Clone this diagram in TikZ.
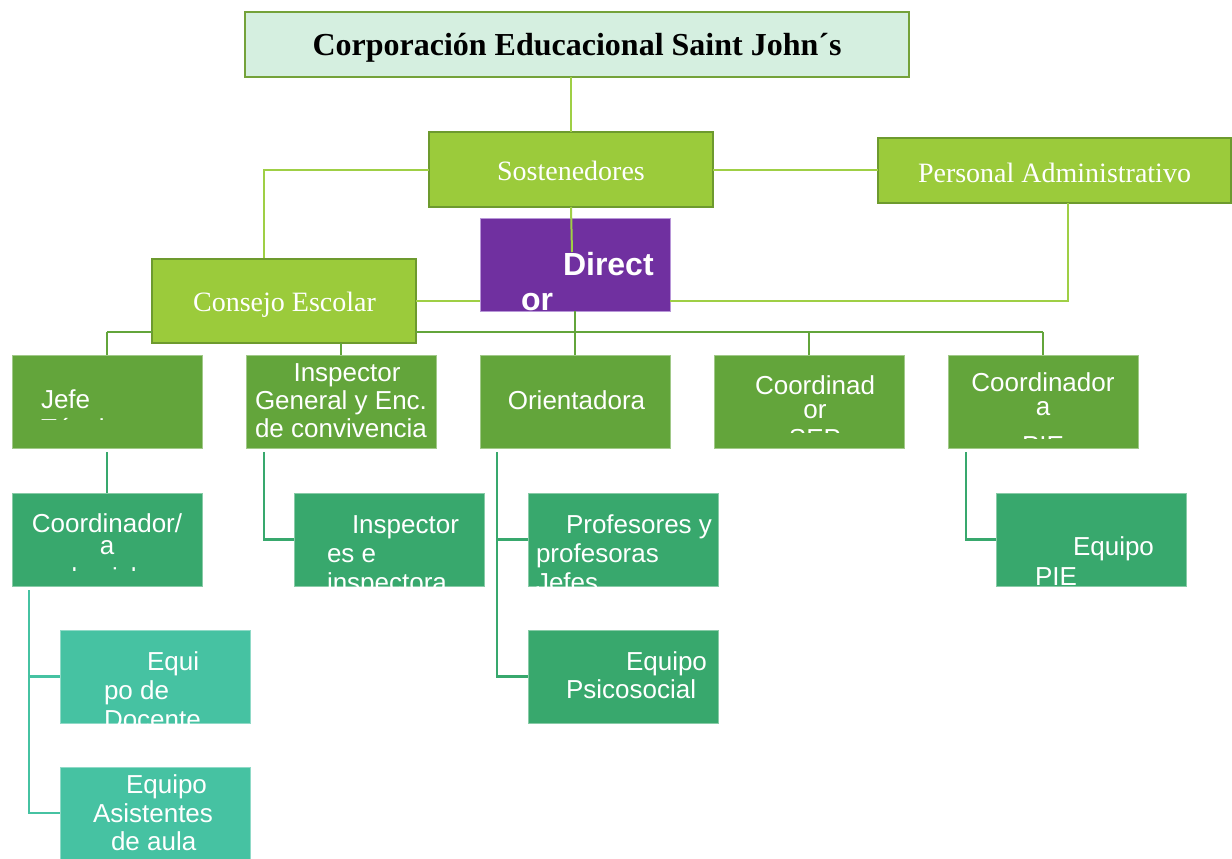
\documentclass[tikz,border=0pt]{standalone}
\usepackage{fontspec}
\setmainfont{Liberation Serif}
\newfontfamily\arialf{Liberation Sans}
\definecolor{cTitleFill}{HTML}{D5EFE0}
\definecolor{cTitleDraw}{HTML}{74A23A}
\definecolor{cLime}{HTML}{9BCB3B}
\definecolor{cLimeDark}{HTML}{6D9A2E}
\definecolor{cLimeLine}{HTML}{9FCF45}
\definecolor{cLvlTwo}{HTML}{63A53B}
\definecolor{cLvlThree}{HTML}{38A86D}
\definecolor{cLvlFour}{HTML}{46C2A2}
\definecolor{cPurple}{HTML}{7030A0}
\definecolor{cPurpleLight}{HTML}{B896D8}
\begin{document}
\begin{tikzpicture}[x=1pt,y=-1pt,
  box/.style={inner sep=0pt, outer sep=0pt, anchor=north west},
  titlebox/.style={box, fill=cTitleFill, draw=cTitleDraw, line width=2.5pt},
  limebox/.style={box, fill=cLime, draw=cLimeDark, line width=2.5pt},
  dirbox/.style={box, fill=cPurple, draw=cPurpleLight, line width=0.8pt},
  twobox/.style={box, fill=cLvlTwo, draw=cLvlTwo!60!white, line width=0.8pt, minimum width=190pt, minimum height=93pt},
  threebox/.style={box, fill=cLvlThree, draw=cLvlThree!60!white, line width=0.8pt, minimum width=190pt, minimum height=93pt},
  fourbox/.style={box, fill=cLvlFour, draw=cLvlFour!60!white, line width=0.8pt, minimum width=190pt, minimum height=93pt},
  limeline/.style={draw=cLimeLine, line width=2pt},
  busline/.style={draw=cLvlTwo, line width=2.6pt},
  tealline/.style={draw=cLvlThree, line width=2.4pt},
  aqualine/.style={draw=cLvlFour, line width=2.4pt},
  tx/.style={font=\arialf\fontsize{26}{29}\selectfont, text=white, inner sep=0pt, outer sep=0pt},
  txb/.style={font=\arialf\bfseries\fontsize{32}{36}\selectfont, text=white, inner sep=0pt, outer sep=0pt},
  ts/.style={font=\fontsize{28}{32}\selectfont, text=white, inner sep=0pt, outer sep=0pt},
  tt/.style={font=\bfseries\fontsize{32}{36}\selectfont, text=black, inner sep=0pt, outer sep=0pt}
]
\useasboundingbox (0,0) rectangle (1232,859);
\fill[white] (0,0) rectangle (1232,859);

% ---------- boxes ----------
\node[titlebox, minimum width=664pt, minimum height=65pt] (corp) at (245,12) {};
\node[limebox, minimum width=284pt, minimum height=75pt] (sost) at (429,132) {};
\node[limebox, minimum width=353pt, minimum height=65pt] (pers) at (878,138) {};

% connector coordinates
\coordinate (consTop) at (264,259);
\coordinate (persBot) at (1068,203);
\coordinate (busL) at (107,332);
\coordinate (busR) at (1043,332);
\coordinate (dirIn) at (572,252);

% ---------- connectors (behind boxes) ----------
\draw[limeline] (sost.north) -- (sost.north |- corp.south);
\draw[limeline] (sost.west) -| (consTop);
\draw[limeline] (sost.east) -- (sost.east -| pers.west);

\node[limebox, minimum width=264pt, minimum height=84pt] (cons) at (152,259) {};
\node[dirbox, minimum width=190pt, minimum height=93pt] (dir) at (480,218) {};

\draw[limeline] (cons.east) -- (cons.east -| dir.west);
\draw[limeline] (dir.east |- cons.east) -| (persBot);

% level 2
\node[twobox] (jefe) at (12,355) {};
\node[twobox] (insg) at (246,355) {};
\node[twobox] (orie) at (480,355) {};
\node[twobox] (csep) at (714,355) {};
\node[twobox] (cpie) at (948,355) {};

% level 3
\node[threebox] (ccic) at (12,493) {};
\node[threebox] (insp) at (294,493) {};
\node[threebox] (prof) at (528,493) {};
\node[threebox] (epie) at (996,493) {};

% level 4 / 5
\node[fourbox] (edoc) at (60,630) {};
\node[threebox] (psic) at (528,630) {};
\node[fourbox, minimum height=92pt] (asis) at (60,767) {};

% bus and drops
\draw[busline] (busL) -- (cons.west |- busL);
\draw[busline] (cons.east |- busR) -- (busR);
\draw[busline] (jefe.north) -- (jefe.north |- busL);
\draw[busline] (insg.north) -- (insg.north |- cons.south);
\draw[busline] (orie.north) -- (dir.south);
\draw[busline] (csep.north) -- (csep.north |- busR);
\draw[busline] (cpie.north) -- (busR);

% sostenedores to director (drawn over director)
\draw[limeline] (sost.south) -- (dirIn);

% lower connectors
\draw[tealline] ([yshift=-4pt]jefe.south) -- (ccic.north);
\draw[tealline] ([xshift=-77pt,yshift=-4pt]insg.south) |- (insp.west);
\draw[tealline] ([xshift=-78pt,yshift=-4pt]orie.south) |- (prof.west);
\draw[tealline] ([xshift=-78pt,yshift=-4pt]orie.south) |- (psic.west);
\draw[tealline] ([xshift=-77pt,yshift=-4pt]cpie.south) |- (epie.west);
\draw[aqualine] ([xshift=-78pt,yshift=-4pt]ccic.south) |- (edoc.west);
\draw[aqualine] ([xshift=-78pt,yshift=-4pt]ccic.south) |- (asis.west);

% ---------- texts ----------
\node[tt, anchor=base] (corpT) at (577,56) {Corporación Educacional Saint John´s};
\node[ts, anchor=base] (sostT) at (571,180) {Sostenedores};
\node[ts, anchor=base] (persT) at (1054.5,182) {Personal Administrativo};
\node[ts, anchor=base] (consT) at (284.5,311) {Consejo Escolar};

\begin{scope}
\clip (dir.north west) rectangle (dir.south east);
\node[txb, anchor=base west] (dirT1) at (563,275) {Direct};
\node[txb, anchor=base west] (dirT2) at (521,310) {or};
\end{scope}

\begin{scope}
\clip (jefe.north west) rectangle (jefe.east |- 0,419);
\node[tx, anchor=base west] (jefeT1) at (41,408) {Jefe};
\node[tx, anchor=base west] (jefeT2) at (41,437) {Técnico};
\end{scope}

\node[tx, anchor=base] (insgT1) at (347,381) {Inspector};
\node[tx, anchor=base] (insgT2) at (341,409) {General y Enc.};
\node[tx, anchor=base] (insgT3) at (341,437) {de convivencia};

\node[tx, anchor=base] (orieT) at (576.5,409) {Orientadora};

\begin{scope}
\clip (csep.north west) rectangle (csep.east |- 0,432);
\node[tx, anchor=base] (csepT1) at (815,394) {Coordinad};
\node[tx, anchor=base] (csepT2) at (815,418) {or};
\node[tx, anchor=base] (csepT3) at (815,447) {SEP};
\end{scope}

\begin{scope}
\clip (cpie.north west) rectangle (cpie.east |- 0,438);
\node[tx, anchor=base] (cpieT1) at (1043,391) {Coordinador};
\node[tx, anchor=base] (cpieT2) at (1043,415) {a};
\node[tx, anchor=base] (cpieT3) at (1043,454) {PIE};
\end{scope}

\begin{scope}
\clip (ccic.north west) rectangle (ccic.east |- 0,570);
\node[tx, anchor=base] (ccicT1) at (107,532) {Coordinador/};
\node[tx, anchor=base] (ccicT2) at (107,554) {a};
\node[tx, anchor=base] (ccicT3) at (107,586) {de ciclo};
\end{scope}

\begin{scope}
\clip (insp.north west) rectangle (insp.south east);
\node[tx, anchor=base west] (inspT1) at (352,533) {Inspector};
\node[tx, anchor=base west] (inspT2) at (327,562) {es e};
\node[tx, anchor=base west] (inspT3) at (327,591) {inspectora};
\end{scope}

\begin{scope}
\clip (prof.north west) rectangle (prof.south east);
\node[tx, anchor=base west] (profT1) at (566,533) {Profesores y};
\node[tx, anchor=base west] (profT2) at (536,562) {profesoras};
\node[tx, anchor=base west] (profT3) at (536,591) {Jefes};
\end{scope}

\begin{scope}
\clip (epie.north west) rectangle (epie.south east);
\node[tx, anchor=base west] (epieT1) at (1073,555) {Equipo};
\node[tx, anchor=base west] (epieT2) at (1035,585) {PIE};
\end{scope}

\node[tx, anchor=base west] (psicT1) at (626,670) {Equipo};
\node[tx, anchor=base west] (psicT2) at (566,698) {Psicosocial};

\begin{scope}
\clip (edoc.north west) rectangle (edoc.south east);
\node[tx, anchor=base west] (edocT1) at (147,670) {Equi};
\node[tx, anchor=base west] (edocT2) at (104,699) {po de};
\node[tx, anchor=base west] (edocT3) at (104,728) {Docente};
\end{scope}

\node[tx, anchor=base west] (asisT1) at (126,793) {Equipo};
\node[tx, anchor=base west] (asisT2) at (93,822) {Asistentes};
\node[tx, anchor=base west] (asisT3) at (111,850) {de aula};
\end{tikzpicture}
\end{document}
